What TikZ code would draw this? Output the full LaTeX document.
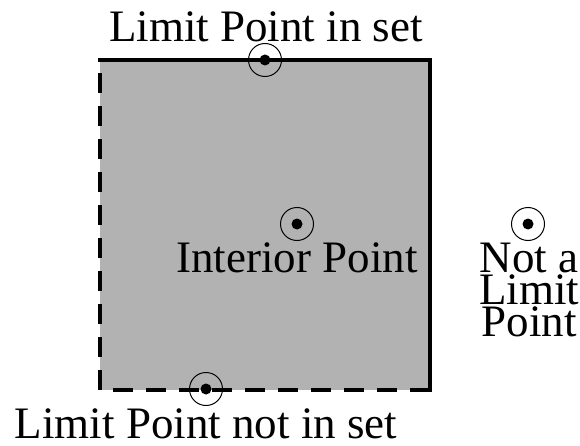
\documentclass[tikz,border=0pt]{standalone}
\usepackage{fontspec}
\setmainfont{Liberation Serif}
\begin{document}
\begin{tikzpicture}[x=1pt,y=1pt,
  ring/.style={circle,draw,line width=1pt,minimum size=33pt,inner sep=0pt},
  lbl/.style={font=\fontsize{45}{32}\selectfont,inner sep=0pt,anchor=base},
  edge/.style={line width=4.5pt},
  dashedge/.style={line width=4.5pt,dash pattern=on 20pt off 13pt}]
\useasboundingbox (0,0) rectangle (580,445);
\fill[black!30] (100,55) rectangle (430,385);
\coordinate (tl) at (100,385);
\coordinate (tr) at (430,385);
\coordinate (br) at (430,55);
\coordinate (bl) at (100,55);
\draw[edge,line cap=rect] (tl) -- (tr) -- (br);
\draw[dashedge] (br) -- (bl) -- (tl);
\node[ring] (ptop) at (265,385) {};
\node[ring] (pint) at (297,221) {};
\node[ring] (pbot) at (206,56) {};
\node[ring] (pout) at (528,221) {};
\foreach \p in {ptop,pint,pbot,pout} \fill (\p.center) circle (5.5pt);
\node[lbl] (ltop) at (266,403) {Limit Point in set};
\node[lbl] (lint) at (297,173) {Interior Point};
\node[lbl,text depth=0pt] (lbot) at (206,7) {Limit Point not in set};
\node[lbl,align=center,anchor=north] (lout) at (529,202) {Not a\\Limit\\Point};
\end{tikzpicture}
\end{document}
